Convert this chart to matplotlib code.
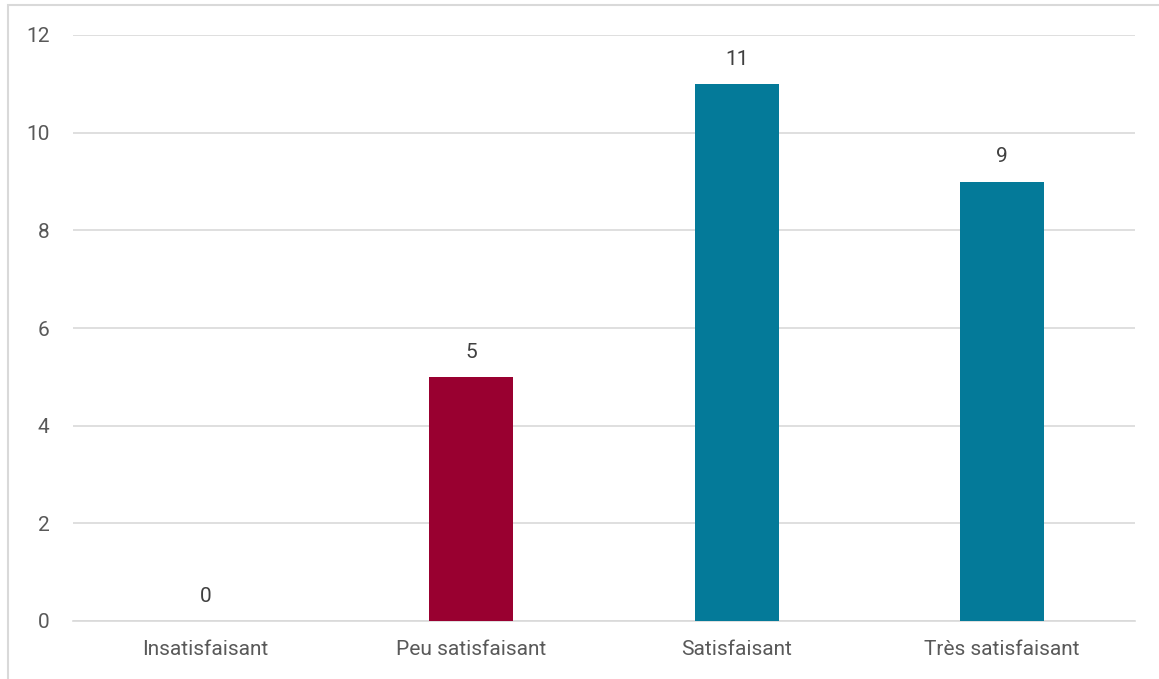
import matplotlib.pyplot as plt
from matplotlib.patches import Rectangle

categories = ['Insatisfaisant', 'Peu satisfaisant', 'Satisfaisant', 'Très satisfaisant']
values = [0, 5, 11, 9]
colours = ['#990030', '#990030', '#047A99', '#047A99']

plt.rcParams['font.family'] = ['Roboto', 'DejaVu Sans']
text_col = '#595959'

fig = plt.figure(figsize=(11.59, 6.79), dpi=100)
ax = fig.add_axes([73/1159, 58/679, (1135-73)/1159, (621-35)/679])

# outer chart border (cut off right and bottom like the original)
fig.patches.append(Rectangle((8/1159, -0.05), 1.2, 0.05 + 674/679, transform=fig.transFigure,
                             fill=False, edgecolor='#d9d9d9', linewidth=1.5))

bars = ax.bar(range(len(categories)), values, width=0.316, color=colours, zorder=3)
for i, v in enumerate(values):
    ax.annotate(str(v), (i, v), xytext=(0, 11), textcoords='offset points',
                ha='center', va='bottom', fontsize=15, color='#404040')

ax.set_xlim(-0.5, 3.5)
ax.set_ylim(0, 12)
ax.set_yticks(range(0, 13, 2))
ax.set_xticks(range(len(categories)))
ax.set_xticklabels(categories)
ax.grid(axis='y', color='#d9d9d9', linewidth=1.2, zorder=0)
for s in ['top', 'right', 'left']:
    ax.spines[s].set_visible(False)
ax.spines['bottom'].set_color('#d9d9d9')
ax.spines['bottom'].set_linewidth(1.2)
ax.tick_params(axis='both', length=0, labelsize=15, labelcolor=text_col)
ax.tick_params(axis='x', pad=14)
ax.tick_params(axis='y', pad=17)

fig.savefig('out.png', dpi=100, facecolor='white')
